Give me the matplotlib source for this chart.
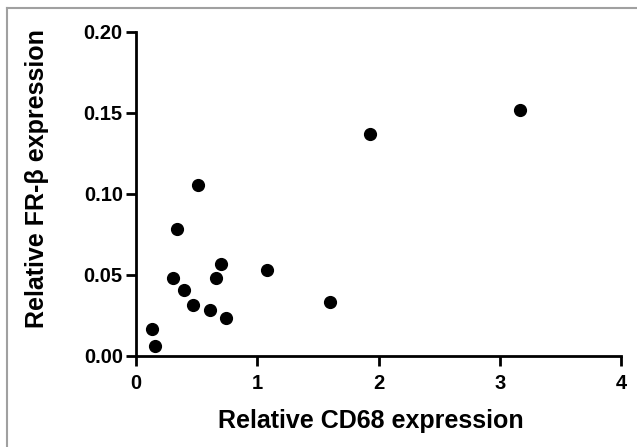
import matplotlib
matplotlib.use('Agg')
import matplotlib.pyplot as plt
from matplotlib.lines import Line2D

plt.rcParams['font.family'] = ['Liberation Sans', 'DejaVu Sans']
plt.rcParams['font.weight'] = 'bold'

# relative expression values
cd68 = [0.13, 0.157, 0.305, 0.338, 0.396, 0.473, 0.514, 0.611,
        0.661, 0.699, 0.745, 1.081, 1.60, 1.93, 3.17]
fr_beta = [0.0165, 0.006, 0.048, 0.0785, 0.0404, 0.0311, 0.1055, 0.0284,
           0.0482, 0.0563, 0.0233, 0.053, 0.0332, 0.137, 0.1515]

x_ticks = [0, 1, 2, 3, 4]
y_ticks = [0.00, 0.05, 0.10, 0.15, 0.20]

fig = plt.figure(figsize=(6.37, 4.47), dpi=100)
ax = fig.add_axes([136 / 637, 1 - 355.7 / 447, (621 - 136) / 637, (355.7 - 31.7) / 447])

ax.scatter(cd68, fr_beta, s=72, color='black', zorder=3, clip_on=False)

ax.set_xlim(0, 4)
ax.set_ylim(0, 0.20)
ax.set_xticks(x_ticks)
ax.set_yticks(y_ticks)
ax.set_xticklabels(['%d' % v for v in x_ticks])
ax.set_yticklabels(['%.2f' % v for v in y_ticks])
ax.tick_params(axis='both', width=2, length=7.5, labelsize=14.5)
ax.tick_params(axis='x', pad=6)
ax.tick_params(axis='y', pad=2)

for side in ['top', 'right']:
    ax.spines[side].set_visible(False)
for side in ['left', 'bottom']:
    ax.spines[side].set_linewidth(2)

ax.set_xlabel('Relative CD68 expression', fontsize=18, fontweight='bold')
ax.set_ylabel('Relative FR-\u03b2 expression', fontsize=18, fontweight='bold')
ax.xaxis.set_label_coords(0.485, -0.165)
ax.yaxis.set_label_coords(-0.18, 0.548)

# thin gray frame on the top and left of the picture
fig.add_artist(Line2D([7 / 637, 7 / 637], [0, 1 - 7.5 / 447], color='#a0a0a0', lw=1.5))
fig.add_artist(Line2D([7 / 637, 1], [1 - 7.5 / 447, 1 - 7.5 / 447], color='#a0a0a0', lw=1.5))

fig.savefig('out.png', dpi=100)
